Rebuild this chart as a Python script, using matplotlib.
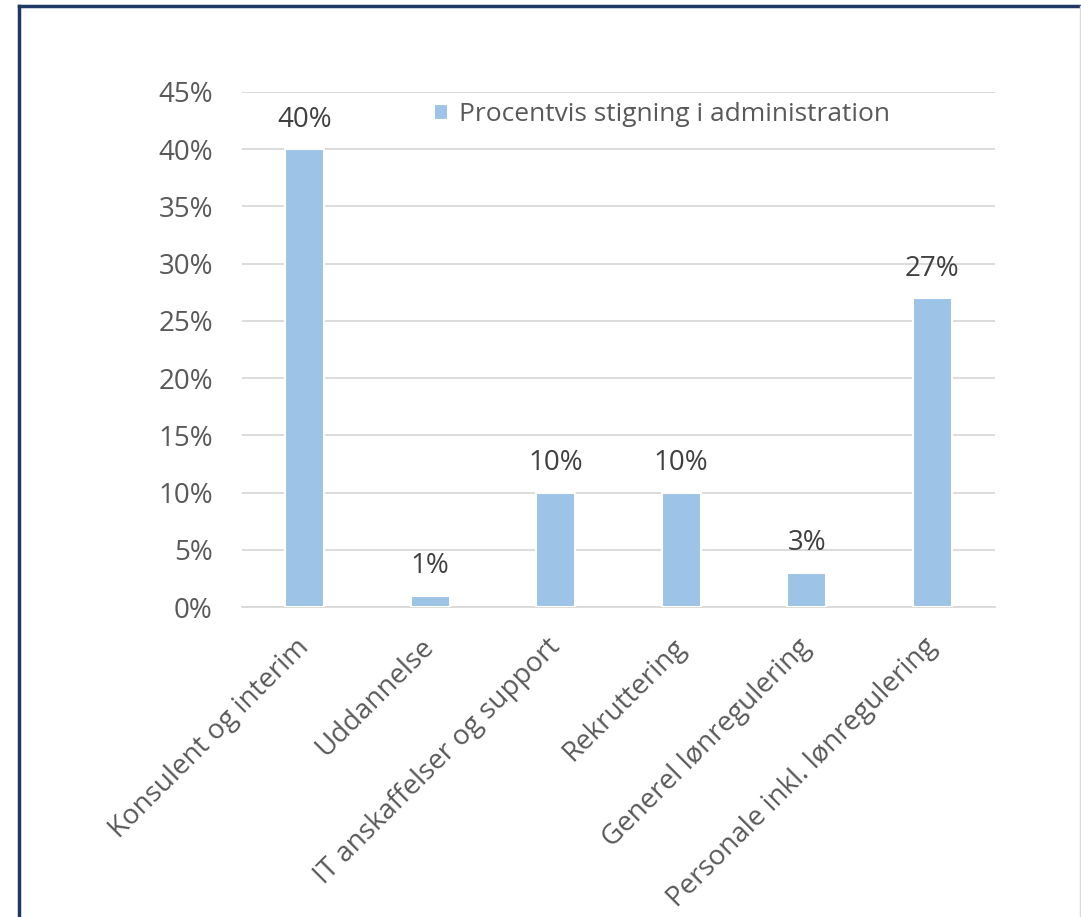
import matplotlib.pyplot as plt
from matplotlib.lines import Line2D
from matplotlib.ticker import FuncFormatter

categories = ["Konsulent og interim", "Uddannelse", "IT anskaffelser og support",
              "Rekruttering", "Generel lønregulering", "Personale inkl. lønregulering"]
values = [40, 1, 10, 10, 3, 27]
series_name = "Procentvis stigning i administration"

plt.rcParams['font.family'] = ['Open Sans', 'DejaVu Sans']

fig = plt.figure(figsize=(10.81, 9.17), dpi=100)
ax = fig.add_axes([242/1081, 1-607/917, 753/1081, 515/917])

bar_color = '#9DC3E6'
x = range(len(categories))
bars = ax.bar(x, values, width=0.31, color=bar_color, edgecolor='white',
              linewidth=1.5, label=series_name, zorder=3)

# value labels above bars
for b, v in zip(bars, values):
    ax.annotate(f"{v}%", (b.get_x() + b.get_width()/2, v), xytext=(0, 11),
                textcoords='offset points', ha='center', va='bottom',
                fontsize=20, color='#404040', zorder=4)

ax.set_ylim(0, 45)
ax.set_yticks(range(0, 46, 5))
ax.yaxis.set_major_formatter(FuncFormatter(lambda v, p: f"{v:.0f}%"))
ax.set_xlim(-0.5, len(categories) - 0.5)
ax.set_xticks(list(x))
ax.set_xticklabels(categories, rotation=45, ha='right', va='center',
                   rotation_mode='anchor')

ax.grid(axis='y', color='#D9D9D9', linewidth=1.3, zorder=0)
for s in ['top', 'right', 'left']:
    ax.spines[s].set_visible(False)
ax.spines['bottom'].set_color('#D9D9D9')
ax.spines['bottom'].set_linewidth(1.3)
ax.tick_params(axis='both', length=0, labelsize=20, labelcolor='#595959')
ax.tick_params(axis='y', pad=21)
ax.tick_params(axis='x', pad=26)

ax.legend(loc='upper left', bbox_to_anchor=(0.23, 1.016), frameon=False,
          fontsize=19, labelcolor='#595959', handlelength=0.55, handleheight=0.55,
          handletextpad=0.4, borderaxespad=0.3)

# frame around the image
navy = '#1F3864'
fig.add_artist(Line2D([19/1081, 19/1081], [0, 1-6/917], color=navy, linewidth=2.5))
fig.add_artist(Line2D([19/1081, 1], [1-6/917, 1-6/917], color=navy, linewidth=2.5))
fig.add_artist(Line2D([1079.5/1081, 1079.5/1081], [0, 1-6/917], color='#D9D9D9', linewidth=1))

fig.savefig("out.png", dpi=100, facecolor='white')
